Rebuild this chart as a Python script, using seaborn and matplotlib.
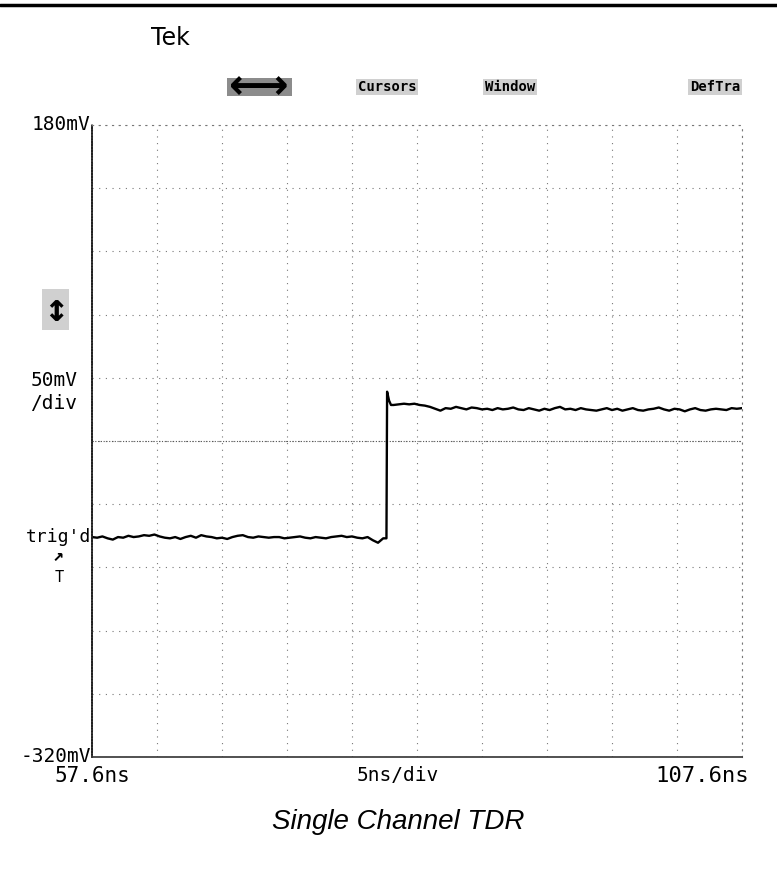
import numpy as np
import pandas as pd
import matplotlib
matplotlib.use('Agg')
import matplotlib.pyplot as plt
from matplotlib.lines import Line2D
from matplotlib.patches import Rectangle
import seaborn as sns

#### DATA

t_start = 57.6     # ns, left edge
t_stop = 107.6     # ns, right edge
v_top = 180        # mV
v_bot = -320       # mV
dt = 0.4           # ns, sample spacing used to read the trace

# Before the step (incident level)
low_mv = [-146, -146.5, -145.5, -147, -148, -146, -146.5, -145, -146, -145.5,
          -144.5, -145, -144, -145.5, -146.5, -147, -146, -147.5, -146, -145,
          -146.5, -144.5, -145.5, -146, -147, -146.5, -147.5, -146, -145, -144.5,
          -146, -146.5, -145.5, -146, -146.5, -146, -146, -147, -146.5, -146,
          -145.5, -146.5, -147, -146, -146.5, -147, -146, -145.5, -145, -146,
          -145.5, -146.5, -147, -146, -148.5, -150.5, -147]

# The edge and the overshoot
edge_t = [80.25, 80.3, 80.45, 80.6]
edge_mv = [-147, -31, -38, -41.5]

# After the step (reflected level)
high_t0 = 80.8
high_mv = [-41.5, -41, -40.5, -41, -40.5, -41.5, -42, -43, -44.5, -46,
           -44, -44.5, -43, -44, -45, -43.5, -44, -45, -44.5, -45.5,
           -44, -45, -44.5, -43.5, -45, -45.5, -44, -45, -46, -44.5,
           -45.5, -44, -43, -45, -44.5, -45.5, -44, -45, -45.5, -46,
           -45, -44, -45.5, -44.5, -46, -45, -44, -45.5, -46, -45,
           -44.5, -43.5, -45, -46, -44.5, -45, -46.5, -45, -44, -45.5,
           -46, -45, -44.5, -45, -45.5, -44, -44.5, -44]

low_t = t_start + dt * np.arange(len(low_mv))
high_t = high_t0 + dt * np.arange(len(high_mv))

trace = pd.DataFrame({
    't': np.concatenate([low_t, edge_t, high_t]),
    'mv': np.concatenate([low_mv, edge_mv, high_mv]),
})

#### PLOT

sns.set_style("white")
plt.rcParams['font.family'] = ['DejaVu Sans Mono', 'DejaVu Sans']
plt.rcParams['text.color'] = 'black'

W, H = 777, 869
fg = plt.figure(figsize=(W / 100, H / 100), dpi=100)
ax = fg.add_axes([92 / W, 1 - 757 / H, 650 / W, 632 / H])

sns.lineplot(data=trace, x='t', y='mv', ax=ax, color='black', linewidth=1.7,
             sort=False, estimator=None)

ax.set_xlim(t_start, t_stop)
ax.set_ylim(v_bot, v_top)
ax.set_xticks(np.arange(t_start, t_stop + 0.01, 5))
ax.set_yticks(np.arange(v_bot, v_top + 1, 50))
ax.tick_params(length=0, labelbottom=False, labelleft=False)
ax.set_xlabel('')
ax.set_ylabel('')
ax.grid(True, color='#777777', linewidth=0.8, linestyle=(0, (1, 5)))

# centre graticule line
ax.axhline(y=(v_top + v_bot) / 2, color='#555555', linewidth=0.8, linestyle=(0, (1, 1.5)), zorder=1)

ax.spines['left'].set_color('#222222')
ax.spines['left'].set_linewidth(1.3)
ax.spines['left'].set_linestyle((0, (1, 0.6)))
ax.spines['bottom'].set_color('#333333')
ax.spines['bottom'].set_linewidth(1.2)
for s in ['top', 'right']:
    ax.spines[s].set_color('#777777')
    ax.spines[s].set_linewidth(0.8)
    ax.spines[s].set_linestyle((0, (1, 5)))

# left readouts
yt = ax.get_yaxis_transform()
ax.text(-0.002, v_top, '180mV', transform=yt, ha='right', va='center', fontsize=14)
ax.text(-0.002, v_bot, '-320mV', transform=yt, ha='right', va='center', fontsize=14)
ax.text(-0.095, -22, '50mV', transform=yt, ha='left', va='center', fontsize=14)
ax.text(-0.095, -40, '/div', transform=yt, ha='left', va='center', fontsize=14)
ax.text(-0.002, low_mv[0], "trig'd", transform=yt, ha='right', va='center', fontsize=13)
ax.text(-0.053, -161, '\u2197', transform=yt, ha='center', va='center', fontsize=13, fontweight='bold')
ax.text(-0.05, -178, 'T', transform=yt, ha='center', va='center', fontsize=11)
ax.text(-0.056, 34, '\u2195', transform=yt, ha='center', va='center', fontsize=28, fontweight='bold',
        bbox=dict(facecolor='#d0d0d0', edgecolor='none', pad=1))

# bottom readouts
ax.text(0.0, -0.03, '57.6ns', transform=ax.transAxes, ha='center', va='center', fontsize=15)
ax.text(0.47, -0.03, '5ns/div', transform=ax.transAxes, ha='center', va='center', fontsize=14)
ax.text(1.01, -0.03, '107.6ns', transform=ax.transAxes, ha='right', va='center', fontsize=16)

# top menu
fg.text(170 / W, 1 - 38 / H, 'Tek', ha='center', va='center', fontsize=17, family='DejaVu Sans')
fg.add_artist(Rectangle((227 / W, 1 - 96 / H), 65 / W, 18 / H, transform=fg.transFigure,
                        facecolor='#8c8c8c', edgecolor='none'))
fg.text(259 / W, 1 - 87 / H, '\u27f7', ha='center', va='center', fontsize=30, fontweight='bold',
        family='DejaVu Sans')
for label, xp in [('Cursors', 387), ('Window', 510), ('DefTra', 715)]:
    fg.text(xp / W, 1 - 87 / H, label, ha='center', va='center', fontsize=10, fontweight='bold',
            bbox=dict(facecolor='#d0d0d0', edgecolor='none', pad=1))

# caption
fg.text(398 / W, 1 - 822 / H, 'Single Channel TDR', ha='center', va='center', fontsize=20,
        style='italic', family=['Liberation Sans', 'DejaVu Sans'])

# scan edge at the top
fg.add_artist(Line2D([0, 1], [1 - 5 / H, 1 - 5 / H], transform=fg.transFigure, color='black', linewidth=2.5))

plt.savefig('out.png', dpi=100)
